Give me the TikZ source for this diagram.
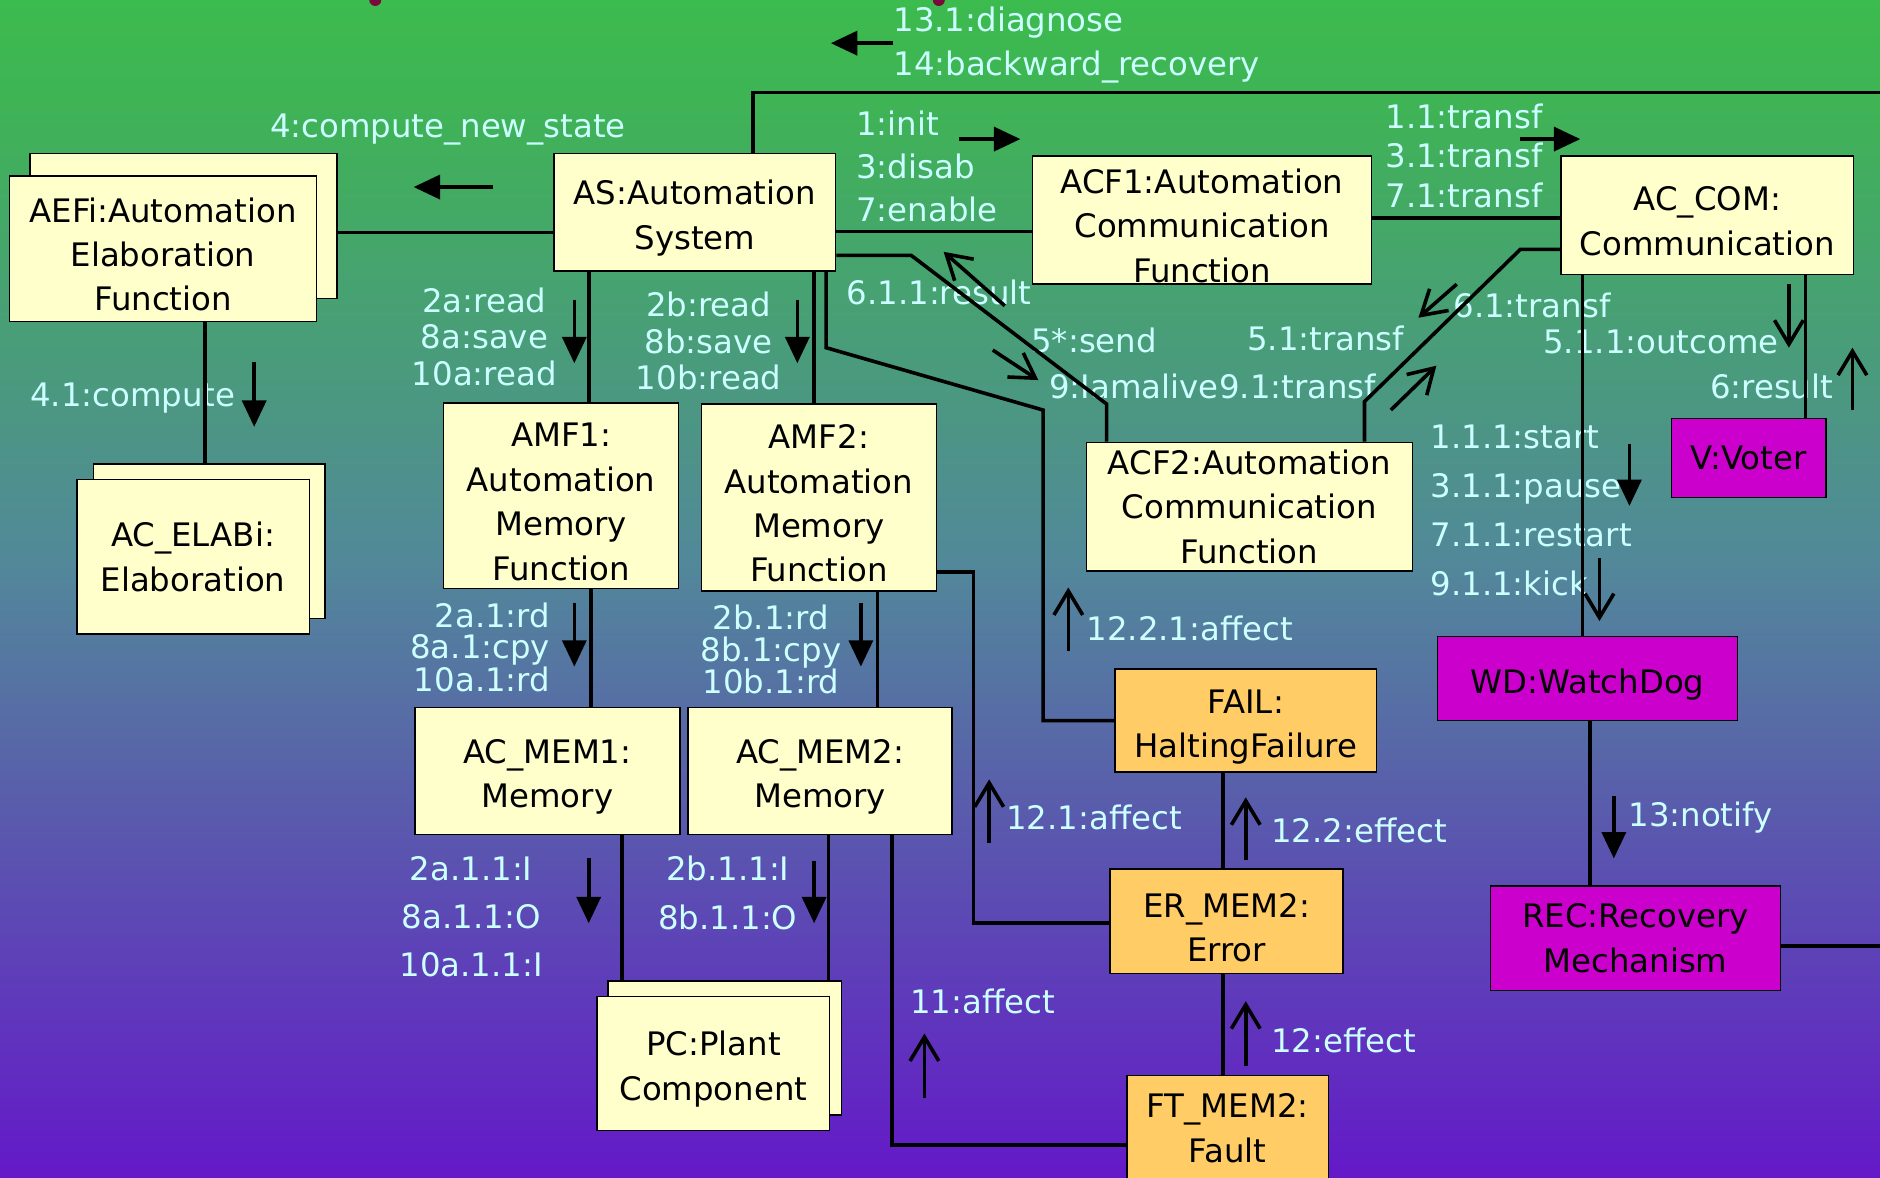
\documentclass[tikz,border=0pt]{standalone}
\usepackage{fontspec}
\setmainfont{DejaVu Sans}
\usetikzlibrary{arrows.meta}
\definecolor{cream}{HTML}{FFFFCC}
\definecolor{faultc}{HTML}{FFCC66}
\definecolor{mechc}{HTML}{CC00CC}
\definecolor{msgc}{HTML}{CCFFFF}
\definecolor{bgA}{HTML}{3CBB4E}
\definecolor{bgB}{HTML}{3FB356}
\definecolor{bgC}{HTML}{52889A}
\definecolor{bgD}{HTML}{6419C8}
\definecolor{dotred}{HTML}{7A0A3C}
\begin{document}
\begin{tikzpicture}[x=1pt, y=-1pt,
    obj/.style={draw, line width=1.3pt, fill=cream, align=center, inner sep=0pt,
                font=\fontsize{27pt}{37pt}\selectfont},
    nl/.style={execute at begin node={\rule{0pt}{\dimexpr 37pt*#1-7pt\relax}}},
    flt/.style={obj, fill=faultc},
    mech/.style={obj, fill=mechc},
    sz/.style 2 args={minimum width=#1pt, minimum height=#2pt},
    lbl/.style={text=msgc, inner sep=0pt, font=\fontsize{27pt}{#1}\selectfont},
    lbl/.default=36pt,
    link/.style={line width=3pt},
    flow/.style={line width=3pt, -{Triangle[length=22pt, width=20pt]}},
    ret/.style={line width=3pt, -{Straight Barb[length=20pt, width=24pt]}}]
  \useasboundingbox (0,0) rectangle (1568,982);
  % background
  \shade[top color=bgA, bottom color=bgB] (0,0) rectangle (1568,92);
  \shade[top color=bgB, bottom color=bgC] (0,90) rectangle (1568,472);
  \shade[top color=bgC, bottom color=bgD] (0,470) rectangle (1568,982);
  \fill[dotred] (313,0) circle (5pt);
  \fill[dotred] (783,0) circle (5pt);

  % message labels
  \node[lbl, anchor=west, align=left] (ldiag) at (745,37.5) {13.1:diagnose\\14:backward\_recovery};
  \node[lbl, anchor=west] (lcns) at (225,108) {4:compute\_new\_state};
  \node[lbl, anchor=west, align=left] (linit) at (714,139) {1:init\\3:disab\\7:enable};
  \node[lbl=33pt, align=center] (ltrf) at (1221,130) {1.1:transf\\3.1:transf\\7.1:transf};
  \node[lbl=30.5pt, align=center] (lreada) at (404,281) {2a:read\\8a:save\\10a:read};
  \node[lbl=30.5pt, align=center] (lreadb) at (591,284.5) {2b:read\\8b:save\\10b:read};
  \node[lbl, anchor=west] (lres) at (706,244) {6.1.1:result};
  \node[lbl, anchor=west] (lsend) at (860,284) {5*:send};
  \node[lbl, anchor=west] (liam) at (875,322) {9:Iamalive};
  \node[lbl, anchor=west] (ltrfc) at (liam.east) {9.1:transf};
  \node[lbl, anchor=west] (ltrfa) at (1040,282) {5.1:transf};
  \node[lbl, anchor=west] (ltrfb) at (1212,255) {6.1:transf};
  \node[lbl, anchor=west] (lout) at (1287,285) {5.1.1:outcome};
  \node[lbl, anchor=west] (lresv) at (1426,322) {6:result};
  \node[lbl, anchor=west] (lcomp) at (25,332) {4.1:compute};
  \node[lbl=41pt, anchor=west, align=left] (lwd) at (1193,425.5) {1.1.1:start\\3.1.1:pause\\7.1.1:restart\\9.1.1:kick};
  \node[lbl=26pt, anchor=east, align=right] (lrda) at (459,540) {2a.1:rd\\8a.1:cpy\\10a.1:rd};
  \node[lbl=26.5pt, align=center] (lrdb) at (643,541.5) {2b.1:rd\\8b.1:cpy\\10b.1:rd};
  \node[lbl=40pt, align=center] (lioa) at (393,764.5) {2a.1.1:I\\8a.1.1:O\\10a.1.1:I};
  \node[lbl=41pt, align=center] (liob) at (607,744.5) {2b.1.1:I\\8b.1.1:O};
  \node[lbl, anchor=west] (laff) at (906,524) {12.2.1:affect};
  \node[lbl, anchor=west] (laffa) at (839,682) {12.1:affect};
  \node[lbl, anchor=west] (leffa) at (1060,693) {12.2:effect};
  \node[lbl, anchor=west] (lnot) at (1358,682) {13:notify};
  \node[lbl, anchor=west] (laffb) at (759,835) {11:affect};
  \node[lbl, anchor=west] (leffb) at (1060,868) {12:effect};

  % message arrows
  \foreach \xa/\ya/\xb/\yb in {745/36/693/36, 411/156/345/156, 800/116/851/116,
      1268/116/1318/116, 479/250/479/303, 665/250/665/303, 212/302/212/356,
      479/503/479/556, 718/503/718/556, 491/716/491/770, 679/718/679/770,
      1359/370/1359/422, 1346/664/1346/716}
    \draw[flow] (\xa,\ya) -- (\xb,\yb);
  \foreach \xa/\ya/\xb/\yb in {838/255/787/210, 828/292/866/317, 1215/237/1183/265,
      1160/342/1198/305, 1492/237/1492/290, 1545/342/1545/290, 1334/465/1334/518,
      891/543/891/490, 825/703/825/650, 1039/717/1039/665, 771/916/771/862,
      1039/889/1039/835}
    \draw[ret] (\xa,\ya) -- (\xb,\yb);

  % objects
  \node[obj, sz={256}{121}] (aefiback) at (153,188.5) {};
  \node[obj, nl=3, sz={256}{121}] (aefi) at (136,207.5) {AEFi:Automation\\Elaboration\\Function};
  \node[obj, nl=2, sz={235}{98}]  (as)    at (579.5,177)  {AS:Automation\\System};
  \node[obj, nl=3, sz={283}{107}] (acf1)  at (1002.5,183.5) {ACF1:Automation\\Communication\\Function};
  \node[obj, nl=2, sz={244}{99}]  (accom) at (1424,179.5) {AC\_COM:\\Communication};
  \node[obj, nl=4, sz={196}{155}] (amf1)  at (468,413.5)  {AMF1:\\Automation\\Memory\\Function};
  \node[obj, nl=4, sz={196}{156}] (amf2)  at (683,415)    {AMF2:\\Automation\\Memory\\Function};
  \node[obj, sz={193}{129}] (acelabback) at (174.5,451.5) {};
  \node[obj, sz={194}{129}] (acelab) at (161,464.5) {AC\_ELABi:\\Elaboration};
  \node[obj, sz={272}{107}] (acf2)  at (1042,422.5) {ACF2:Automation\\Communication\\Function};
  \node[mech, sz={129}{66}] (voter) at (1458.5,382) {V:Voter};
  \node[mech, nl=1, sz={250}{70}] (wd) at (1324,566) {WD:WatchDog};
  \node[flt, nl=2, sz={218}{86}]  (fail)  at (1039,601)   {FAIL:\\HaltingFailure};
  \node[obj, nl=2, sz={221}{106}] (acmem1) at (456.5,643) {AC\_MEM1:\\Memory};
  \node[obj, nl=2, sz={220}{106}] (acmem2) at (684,643)   {AC\_MEM2:\\Memory};
  \node[flt, nl=2, sz={194}{87}]  (ermem) at (1023,768.5) {ER\_MEM2:\\Error};
  \node[mech, sz={242}{87}] (rec)   at (1364,782.5) {REC:Recovery\\Mechanism};
  \node[obj, sz={195}{112}] (pcback) at (604.5,874) {};
  \node[obj, nl=2, sz={194}{112}] (pc) at (595,887) {PC:Plant\\Component};
  \node[flt, sz={168}{88}]  (ftmem) at (1024,941)   {FT\_MEM2:\\Fault};
  \coordinate (edgetop) at (1568,77);
  \coordinate (edgerec) at (1568,789);

  % links
  \draw[link] (as.west |- 0,194) -- (aefiback.east |- 0,194);
  \draw[link] (as.north -| 628,0) |- (edgetop);
  \draw[link] (as.east |- 0,193) -- (acf1.west |- 0,193);
  \draw[link] (acf1.east |- 0,182) -- (accom.west |- 0,182);
  \draw[link] (as.east |- 0,213) -- (760,213) -- (923,337) -- (acf2.north -| 923,0);
  \draw[link] (as.south -| 689,0) -- (689,290) -- (870,342) |- (fail.west);
  \draw[link] (as.south -| 491,0) -- (amf1.north -| 491,0);
  \draw[link] (as.south -| 679,0) -- (amf2.north -| 679,0);
  \draw[link] (amf1.south -| 493,0) -- (acmem1.north -| 493,0);
  \draw[link] (amf2.south -| 732,0) -- (acmem2.north -| 732,0);
  \draw[link] (acmem1.south -| 519,0) -- (pcback.north -| 519,0);
  \draw[link] (acmem2.south -| 691,0) -- (pcback.north -| 691,0);
  \draw[link] (acmem2.south -| 744,0) |- (ftmem.west |- 0,955);
  \draw[link] (amf2.east |- 0,477) -- (812,477) |- (ermem.west |- 0,770);
  \draw[link] (fail.south -| 1020,0) -- (ermem.north -| 1020,0);
  \draw[link] (ermem.south -| 1020,0) -- (ftmem.north -| 1020,0);
  \draw[link] (aefi.south -| 171,0) -- (acelabback.north -| 171,0);
  \draw[link] (acf2.north -| 1138,0) -- (1138,335) -- (1268,208) -- (accom.west |- 0,208);
  \draw[link] (accom.south -| 1320,0) -- (wd.north -| 1320,0);
  \draw[link] (accom.south -| 1506,0) -- (voter.north -| 1506,0);
  \draw[link] (wd.south -| 1326,0) -- (rec.north -| 1326,0);
  \draw[link] (rec.east |- 0,789) -- (edgerec);
\end{tikzpicture}
\end{document}
